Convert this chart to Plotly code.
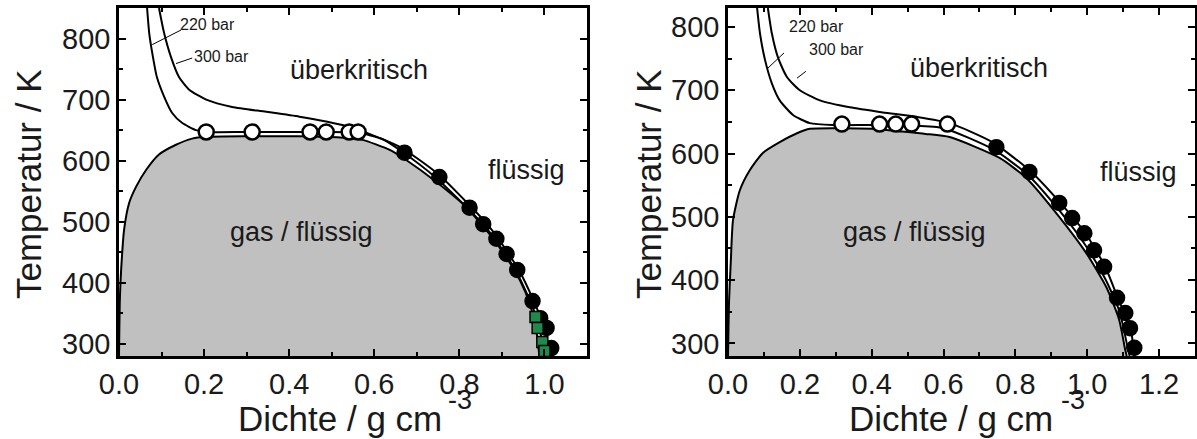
import plotly.graph_objects as go

# ---------------- Left panel (H2O) ----------------
# two-phase dome (coexistence curve), density g/cm3 vs temperature K
dome_l_rho = [0.0, 0.002, 0.005, 0.012, 0.024, 0.040, 0.064, 0.094, 0.134, 0.172, 0.205, 0.30, 0.42,
              0.52, 0.572, 0.635, 0.675, 0.746, 0.816, 0.85, 0.88, 0.905, 0.93, 0.955, 0.97, 0.98, 0.985, 0.988]
dome_l_T = [280, 372, 421, 487, 531, 557, 585, 610, 626, 636, 639, 640, 640,
            638, 634, 618, 601, 565, 524, 497, 472, 447, 420, 385, 355, 325, 300, 280]

iso220_l_rho = [0.066, 0.071, 0.078, 0.089, 0.106, 0.125, 0.148, 0.181, 0.205, 0.30, 0.45, 0.56,
                0.62, 0.665, 0.745, 0.815, 0.85, 0.88, 0.905, 0.93, 0.96, 0.98, 0.993, 1.0]
iso220_l_T = [850, 809, 777, 737, 705, 678, 662, 650, 647, 647, 647, 646,
              635, 615, 572, 525, 500, 475, 450, 423, 380, 345, 310, 280]

iso300_l_rho = [0.094, 0.106, 0.122, 0.141, 0.165, 0.205, 0.266, 0.346, 0.424, 0.487, 0.548, 0.659,
                0.75, 0.825, 0.86, 0.89, 0.915, 0.94, 0.975, 0.995, 1.008, 1.013]
iso300_l_T = [850, 809, 770, 737, 716, 700, 688, 680, 672, 664, 654, 623,
              578, 526, 500, 474, 448, 421, 370, 335, 300, 280]

open_l_rho = [0.205, 0.313, 0.449, 0.487, 0.541, 0.562]
open_l_T = [647, 647, 647, 647, 647, 647]

filled_l_rho = [0.671, 0.753, 0.824, 0.856, 0.887, 0.911, 0.936, 0.972, 0.99, 1.005, 1.016]
filled_l_T = [613, 573, 523, 496, 472, 447, 421, 370, 342, 326, 293]

square_l_rho = [0.979, 0.984, 0.995, 1.0]
square_l_T = [344, 326, 303, 288]

# ---------------- Right panel (D2O) ----------------
dome_r_rho = [0.0, 0.003, 0.008, 0.014, 0.033, 0.061, 0.097, 0.144, 0.192, 0.228, 0.30, 0.40, 0.478,
              0.55, 0.617, 0.756, 0.831, 0.922, 0.997, 1.053, 1.089, 1.106, 1.11]
dome_r_T = [280, 368, 432, 495, 542, 574, 601, 618, 632, 639, 640, 639, 635,
            631, 626, 593, 561, 500, 443, 389, 337, 289, 280]

iso220_r_rho = [0.081, 0.089, 0.103, 0.122, 0.144, 0.181, 0.228, 0.292, 0.40, 0.511,
                0.60, 0.74, 0.835, 0.925, 0.995, 1.05, 1.09, 1.11, 1.118]
iso220_r_T = [830, 790, 748, 711, 684, 661, 648, 645, 645, 644,
              640, 606, 566, 508, 455, 402, 350, 300, 280]

iso300_r_rho = [0.111, 0.122, 0.139, 0.164, 0.2, 0.256, 0.339, 0.431, 0.525, 0.617, 0.736,
                0.84, 0.925, 0.995, 1.05, 1.085, 1.12, 1.132]
iso300_r_T = [830, 790, 752, 721, 700, 684, 673, 665, 658, 648, 618,
              573, 522, 474, 421, 372, 324, 280]

open_r_rho = [0.317, 0.422, 0.467, 0.511, 0.611]
open_r_T = [646.5, 646.5, 646.5, 646.5, 646.5]

filled_r_rho = [0.747, 0.839, 0.922, 0.958, 0.992, 1.019, 1.047, 1.083, 1.106, 1.119, 1.131]
filled_r_T = [610, 571, 522, 498, 474, 447, 421, 372, 348, 324, 293]

# labels and leader lines for the isobars
lead_l = {"220": ([0.146, 0.078], [814, 790]), "300": ([0.172, 0.134], [768, 759])}
lead_r = {"220": ([0.156, 0.111], [759, 735]), "300": ([0.217, 0.192], [730, 719])}

FONT = "Liberation Sans, Arial, sans-serif"
fig = go.Figure()


def add_panel(xa, ya, dome_rho, dome_T, i220_rho, i220_T, i300_rho, i300_T,
              o_rho, o_T, f_rho, f_T, leads, sq_rho=None, sq_T=None):
    fig.add_trace(go.Scatter(x=dome_rho, y=dome_T, xaxis=xa, yaxis=ya, mode="lines",
                             fill="toself", fillcolor="#c0c0c0",
                             line=dict(color="black", width=2, shape="spline", smoothing=0.6),
                             showlegend=False, hoverinfo="skip"))
    for rx, ty in ((i220_rho, i220_T), (i300_rho, i300_T)):
        fig.add_trace(go.Scatter(x=rx, y=ty, xaxis=xa, yaxis=ya, mode="lines",
                                 line=dict(color="black", width=2, shape="spline", smoothing=0.6),
                                 showlegend=False))
    for key in ("220", "300"):
        lx, ly = leads[key]
        fig.add_trace(go.Scatter(x=lx, y=ly, xaxis=xa, yaxis=ya, mode="lines",
                                 line=dict(color="black", width=1), showlegend=False))
    fig.add_trace(go.Scatter(x=f_rho, y=f_T, xaxis=xa, yaxis=ya, mode="markers",
                             marker=dict(symbol="circle", size=15, color="black",
                                         line=dict(color="black", width=1.5)),
                             showlegend=False))
    if sq_rho is not None:
        fig.add_trace(go.Scatter(x=sq_rho, y=sq_T, xaxis=xa, yaxis=ya, mode="markers",
                                 marker=dict(symbol="square", size=11, color="#1f8a4c",
                                             line=dict(color="black", width=1.5)),
                                 showlegend=False))
    fig.add_trace(go.Scatter(x=o_rho, y=o_T, xaxis=xa, yaxis=ya, mode="markers",
                             marker=dict(symbol="circle", size=15, color="white",
                                         line=dict(color="black", width=2.5)),
                             showlegend=False))


add_panel("x", "y", dome_l_rho, dome_l_T, iso220_l_rho, iso220_l_T, iso300_l_rho, iso300_l_T,
          open_l_rho, open_l_T, filled_l_rho, filled_l_T, lead_l, square_l_rho, square_l_T)
add_panel("x2", "y2", dome_r_rho, dome_r_T, iso220_r_rho, iso220_r_T, iso300_r_rho, iso300_r_T,
          open_r_rho, open_r_T, filled_r_rho, filled_r_T, lead_r)

W, H = 1197, 439
TOP, BOTTOM = 8, 356          # plot area in pixels
PH = BOTTOM - TOP


def axis_style(rng, dtick, minor, fmt=None):
    d = dict(range=rng, showline=True, linewidth=2.5, linecolor="black", mirror="ticks",
             ticks="inside", ticklen=7, tickwidth=2, tickcolor="black", dtick=dtick, tick0=0,
             minor=dict(ticks="inside", ticklen=4, tickwidth=1.5, dtick=minor, tickcolor="black"),
             showgrid=False, zeroline=False, automargin=False,
             tickfont=dict(family=FONT, size=29, color="#1a1a1a"))
    if fmt:
        d["tickformat"] = fmt
    return d


fig.update_layout(
    width=W, height=H,
    margin=dict(l=0, r=0, t=TOP, b=H - BOTTOM, autoexpand=False),
    paper_bgcolor="white", plot_bgcolor="white",
    xaxis=dict(domain=[119 / W, 587 / W], anchor="y", **axis_style([0, 1.1], 0.2, 0.1, ".1f")),
    yaxis=dict(domain=[0, 1], anchor="x", **axis_style([280, 850], 100, 50)),
    xaxis2=dict(domain=[728 / W, 1195 / W], anchor="y2", **axis_style([0, 1.3], 0.2, 0.1, ".1f")),
    yaxis2=dict(domain=[0, 1], anchor="x2", **axis_style([280, 830], 100, 50)),
)

ann = []
txt_big = dict(family=FONT, size=27, color="#1a1a1a")
txt_small = dict(family=FONT, size=16, color="#1a1a1a")
for xr, yr, pos in (("x", "y", [(0.565, 749, "überkritisch"), (0.958, 585, "flüssig"),
                               (0.43, 483, "gas / flüssig")]),
                    ("x2", "y2", [(0.70, 735, "überkritisch"), (1.144, 571, "flüssig"),
                                  (0.519, 476, "gas / flüssig")])):
    for x, y, t in pos:
        ann.append(dict(x=x, y=y, xref=xr, yref=yr, text=t, showarrow=False, font=txt_big,
                        xanchor="center", yanchor="middle"))

for x, y, xr, yr, t in ((0.209, 823, "x", "y", "220 bar"), (0.240, 770, "x", "y", "300 bar"),
                        (0.247, 800, "x2", "y2", "220 bar"), (0.303, 765, "x2", "y2", "300 bar")):
    ann.append(dict(x=x, y=y, xref=xr, yref=yr, text=t, showarrow=False, font=txt_small,
                    xanchor="center", yanchor="middle"))

# axis titles (the exponent of the density unit is placed as its own raised text)
title_font = dict(family=FONT, size=35, color="#1a1a1a")
exp_font = dict(family=FONT, size=27, color="#1a1a1a")
for xc in (28, 648):
    ann.append(dict(x=xc / W, y=(BOTTOM - 184) / PH, xref="paper", yref="paper",
                    text="Temperatur / K", textangle=-90, showarrow=False, font=title_font,
                    xanchor="center", yanchor="middle"))
for xc, xe in ((340, 460), (951, 1073)):
    ann.append(dict(x=xc / W, y=(BOTTOM - 418) / PH, xref="paper", yref="paper",
                    text="Dichte / g cm", showarrow=False, font=title_font,
                    xanchor="center", yanchor="middle"))
    ann.append(dict(x=xe / W, y=(BOTTOM - 400) / PH, xref="paper", yref="paper",
                    text="-3", showarrow=False, font=exp_font,
                    xanchor="center", yanchor="middle"))

fig.update_layout(annotations=ann)
fig.write_html("out.html")
